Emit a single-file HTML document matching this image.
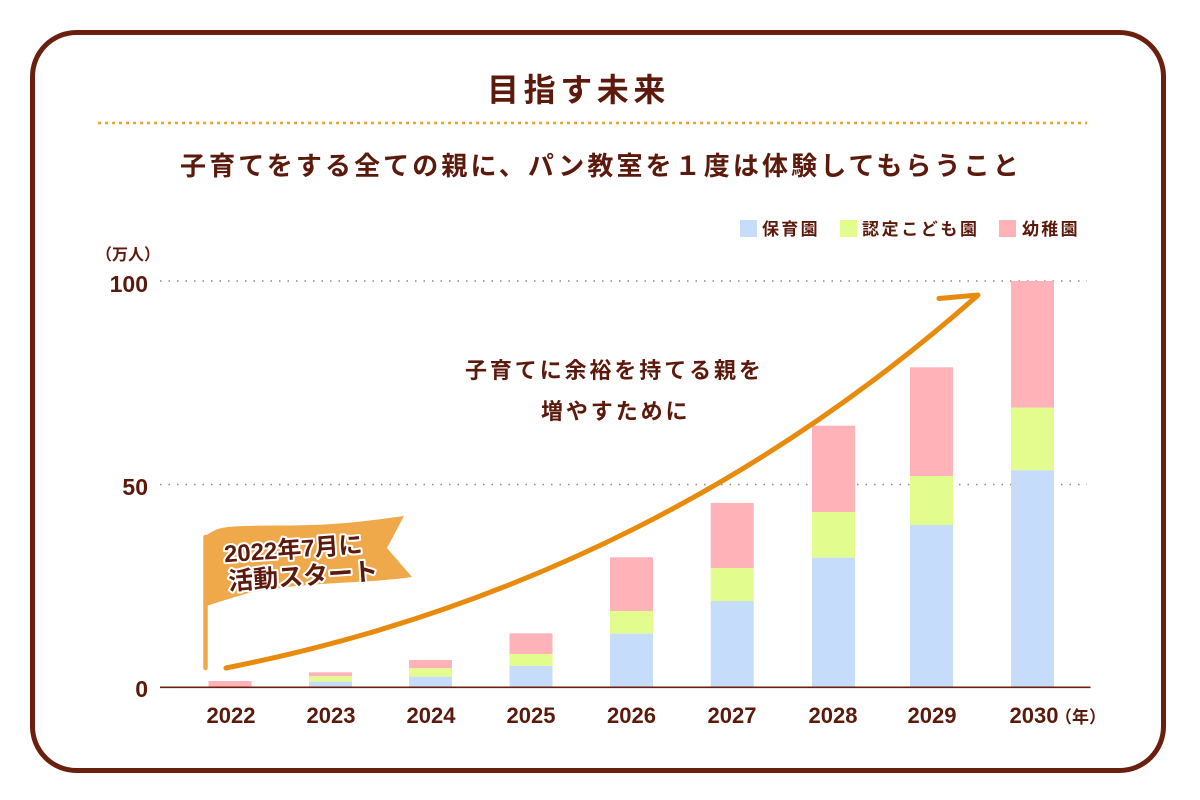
<!DOCTYPE html>
<html lang="ja">
<head>
<meta charset="utf-8">
<style>
  html, body { margin: 0; padding: 0; background: #ffffff; }
  body { width: 1200px; height: 800px; overflow: hidden; }
  svg { display: block; }
  .t { font-family: "Liberation Sans", "Noto Sans CJK JP", sans-serif; fill: #5b1a0b; }
</style>
</head>
<body>
<svg width="1200" height="800" viewBox="0 0 1200 800" xmlns="http://www.w3.org/2000/svg">
  <rect x="0" y="0" width="1200" height="800" fill="#ffffff"/>
  <!-- outer frame -->
  <rect x="32.5" y="32.5" width="1131" height="738" rx="44" ry="44" fill="#ffffff" stroke="#6b200f" stroke-width="5"/>

  <!-- title -->
  <text class="t" x="487" y="101" font-size="32" font-weight="bold" letter-spacing="4.6">目指す未来</text>
  <!-- orange dotted line -->
  <line x1="98" y1="123" x2="1087" y2="123" stroke="#f0a22e" stroke-width="2.5" stroke-dasharray="3 4"/>
  <!-- subtitle -->
  <text class="t" x="180" y="175" font-size="26" font-weight="bold" letter-spacing="3.1">子育てをする全ての親に、パン教室を１度は体験してもらうこと</text>

  <!-- legend -->
  <rect x="740" y="220" width="17" height="17" fill="#c6dcfb"/>
  <text class="t" x="762" y="235" font-size="17" font-weight="bold" letter-spacing="2.3">保育園</text>
  <rect x="840" y="220" width="17" height="17" fill="#e3fc8e"/>
  <text class="t" x="862" y="235" font-size="17" font-weight="bold" letter-spacing="2.6">認定こども園</text>
  <rect x="999" y="220" width="17" height="17" fill="#ffb3b8"/>
  <text class="t" x="1022" y="235" font-size="17" font-weight="bold" letter-spacing="2.3">幼稚園</text>

  <!-- y axis unit -->
  <text class="t" x="96" y="260" font-size="16" font-weight="bold">（万人）</text>
  <!-- y labels -->
  <text class="t" x="148" y="292" font-size="23" font-weight="bold" text-anchor="end">100</text>
  <text class="t" x="148" y="495" font-size="23" font-weight="bold" text-anchor="end">50</text>
  <text class="t" x="148" y="697" font-size="23" font-weight="bold" text-anchor="end">0</text>

  <!-- gridlines -->
  <line x1="160" y1="281" x2="1087" y2="281" stroke="#9b8580" stroke-width="1.5" stroke-dasharray="1.5 7"/>
  <line x1="160" y1="484.5" x2="1087" y2="484.5" stroke="#9b8580" stroke-width="1.5" stroke-dasharray="1.5 7"/>

  <!-- bars -->
  <g>
    <rect x="208.5" y="681" width="43" height="6" fill="#ffb3b8"/>
    <rect x="309" y="672.3" width="43" height="4" fill="#ffb3b8"/>
    <rect x="309" y="676.3" width="43" height="5.4" fill="#e3fc8e"/>
    <rect x="309" y="681.7" width="43" height="5.3" fill="#c6dcfb"/>
    <rect x="409" y="660" width="43" height="8.3" fill="#ffb3b8"/>
    <rect x="409" y="668.3" width="43" height="8.4" fill="#e3fc8e"/>
    <rect x="409" y="676.7" width="43" height="10.3" fill="#c6dcfb"/>
    <rect x="509.5" y="633.3" width="43" height="20.7" fill="#ffb3b8"/>
    <rect x="509.5" y="654" width="43" height="12" fill="#e3fc8e"/>
    <rect x="509.5" y="666" width="43" height="21" fill="#c6dcfb"/>
    <rect x="610" y="557.3" width="43" height="53.7" fill="#ffb3b8"/>
    <rect x="610" y="611" width="43" height="22.7" fill="#e3fc8e"/>
    <rect x="610" y="633.7" width="43" height="53.3" fill="#c6dcfb"/>
    <rect x="710.7" y="503" width="43" height="65" fill="#ffb3b8"/>
    <rect x="710.7" y="568" width="43" height="33" fill="#e3fc8e"/>
    <rect x="710.7" y="601" width="43" height="86" fill="#c6dcfb"/>
    <rect x="812" y="425.7" width="43" height="86.3" fill="#ffb3b8"/>
    <rect x="812" y="512" width="43" height="45.7" fill="#e3fc8e"/>
    <rect x="812" y="557.7" width="43" height="129.3" fill="#c6dcfb"/>
    <rect x="910" y="367.3" width="43" height="108.7" fill="#ffb3b8"/>
    <rect x="910" y="476" width="43" height="49" fill="#e3fc8e"/>
    <rect x="910" y="525" width="43" height="162" fill="#c6dcfb"/>
    <rect x="1011" y="281" width="43" height="126.7" fill="#ffb3b8"/>
    <rect x="1011" y="407.7" width="43" height="62.6" fill="#e3fc8e"/>
    <rect x="1011" y="470.3" width="43" height="216.7" fill="#c6dcfb"/>
  </g>

  <!-- baseline -->
  <line x1="160" y1="687.3" x2="1090.5" y2="687.3" stroke="#6b200f" stroke-width="1.6"/>

  <!-- x labels -->
  <g font-size="22" font-weight="bold" text-anchor="middle">
    <text class="t" x="231" y="723">2022</text>
    <text class="t" x="331" y="723">2023</text>
    <text class="t" x="431" y="723">2024</text>
    <text class="t" x="531" y="723">2025</text>
    <text class="t" x="631.5" y="723">2026</text>
    <text class="t" x="732" y="723">2027</text>
    <text class="t" x="833" y="723">2028</text>
    <text class="t" x="932" y="723">2029</text>
    <text class="t" x="1034" y="723">2030</text>
  </g>
  <text class="t" x="1055" y="723" font-size="17" font-weight="bold">（年）</text>

  <!-- middle text -->
  <text class="t" x="465" y="378" font-size="22" font-weight="bold" letter-spacing="2.9">子育てに余裕を持てる親を</text>
  <text class="t" x="541" y="419" font-size="22" font-weight="bold" letter-spacing="2.9">増やすために</text>

  <!-- arrow -->
  <path d="M226,668 Q650,584 977,296" fill="none" stroke="#e88a0c" stroke-width="5" stroke-linecap="round"/>
  <path d="M939,298.5 L978,295" fill="none" stroke="#e88a0c" stroke-width="5" stroke-linecap="round"/>

  <!-- flag -->
  <line x1="205.5" y1="537" x2="205.5" y2="668" stroke="#efa94a" stroke-width="4.5" stroke-linecap="round"/>
  <path d="M204,537 C212,531 218,528 228,527 C250,525 280,526 310,525 C345,524 375,520 404,516 L387,548 L412,577 C385,581 350,582 322,584 C295,586 265,588 242,595 C228,599 215,603 204,607 Z" fill="#efa94a"/>
  <g transform="rotate(-4 300 560)">
    <text x="294" y="557" font-size="24" font-weight="bold" text-anchor="middle" font-family="Liberation Sans, Noto Sans CJK JP, sans-serif" fill="#5b1a0b" stroke="#ffffff" stroke-width="4" stroke-linejoin="round" paint-order="stroke">2022年7月に</text>
    <text x="302" y="585" font-size="25" font-weight="bold" text-anchor="middle" font-family="Liberation Sans, Noto Sans CJK JP, sans-serif" fill="#5b1a0b" stroke="#ffffff" stroke-width="4" stroke-linejoin="round" paint-order="stroke">活動スタート</text>
  </g>
</svg>
</body>
</html>
